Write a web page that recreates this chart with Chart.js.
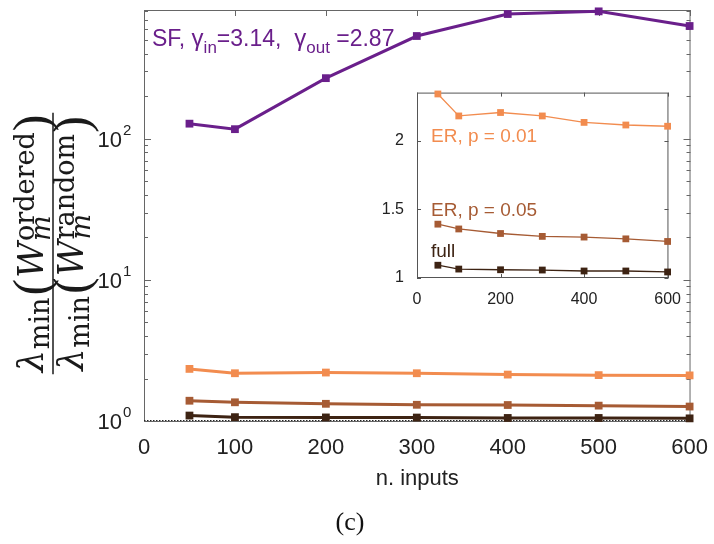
<!DOCTYPE html>
<html lang="en">
<head>
  <meta charset="UTF-8">
  <title>lambda_min ratio vs n. inputs</title>
  <script src="https://cdn.jsdelivr.net/npm/chart.js"></script>
  <style>
    body { margin: 0; background: #ffffff; }
    #wrap { position: relative; width: 714px; height: 544px; }
    #main { position: absolute; left: 0; top: 0; }
    #inset { position: absolute; left: 370px; top: 78px; }
  </style>
</head>
<body>
  <div id="wrap">
    <canvas id="main" width="714" height="544"></canvas>
    <canvas id="inset" width="315" height="228"></canvas>
  </div>

  <script>
    // data
    var nInputs = [50, 100, 200, 300, 400, 500, 600];
    var sfRatio = [128, 117, 269, 535, 766, 800, 630];
    var er001 = [2.34, 2.18, 2.205, 2.18, 2.133, 2.114, 2.105];
    var er005 = [1.392, 1.357, 1.324, 1.303, 1.298, 1.285, 1.266];
    var fullRatio = [1.093, 1.065, 1.060, 1.058, 1.051, 1.051, 1.044];

    var xTicks = [0, 100, 200, 300, 400, 500, 600];
    var yDecades = [1, 10, 100];
    var yDecadeExp = ['0', '1', '2'];
    var insetXTicks = [0, 200, 400, 600];
    var insetYTicks = [1, 1.5, 2];
    var insetYLabels = ['1', '1.5', '2'];

    var purple = '#6a1f8b', orange = '#f28c4f', brown = '#a65b34', dark = '#3d2313';
    var sans = '"Liberation Sans", Arial, sans-serif';
    var serif = '"DejaVu Serif", "Liberation Serif", serif';
    var thinSerif = '"Liberation Serif", serif';

    function pts(ys) {
      return nInputs.map(function (x, i) { return { x: x, y: ys[i] }; });
    }

    function series(label, ys, color, w, r) {
      return {
        label: label, data: pts(ys), borderColor: color, backgroundColor: color,
        borderWidth: w, pointStyle: 'rect', pointRadius: r, pointHoverRadius: r,
        pointBorderWidth: 0, clip: false
      };
    }

    function line(ctx, x1, y1, x2, y2) {
      ctx.beginPath(); ctx.moveTo(x1, y1); ctx.lineTo(x2, y2); ctx.stroke();
    }

    // parts: {t, f, dy, adv, gap}
    function richWidth(ctx, parts) {
      var w = 0;
      parts.forEach(function (p) {
        ctx.font = p.f;
        if (p.adv !== false) w += ctx.measureText(p.t).width + (p.gap || 0);
      });
      return w;
    }
    function drawRich(ctx, parts, x, y) {
      parts.forEach(function (p) {
        ctx.font = p.f;
        ctx.fillText(p.t, x, y + (p.dy || 0));
        if (p.adv !== false) x += ctx.measureText(p.t).width + (p.gap || 0);
      });
    }

    var mainDecor = {
      id: 'mainDecor',
      beforeDatasetsDraw: function (chart) {
        var ctx = chart.ctx, a = chart.chartArea, x = chart.scales.x, y = chart.scales.y;
        ctx.save();
        ctx.strokeStyle = '#666';
        ctx.lineWidth = 1;
        ctx.strokeRect(a.left + 0.5, a.top + 0.5, a.right - a.left - 1, a.bottom - a.top);
        xTicks.forEach(function (v) {
          var px = Math.round(x.getPixelForValue(v)) + 0.5;
          line(ctx, px, a.bottom, px, a.bottom - 6);
          line(ctx, px, a.top, px, a.top + 6);
        });
        yDecades.forEach(function (d) {
          for (var m = 1; m <= 9; m++) {
            var v = m * d;
            if (v > y.max) break;
            var py = Math.round(y.getPixelForValue(v)) + 0.5;
            var len = m === 1 ? 7 : 4;
            line(ctx, a.left, py, a.left + len, py);
            line(ctx, a.right, py, a.right - len, py);
          }
        });
        // dotted baseline
        ctx.strokeStyle = '#222';
        ctx.setLineDash([1.5, 1.5]);
        line(ctx, a.left, a.bottom - 0.5, a.right, a.bottom - 0.5);
        ctx.restore();
      },
      afterDraw: function (chart) {
        var ctx = chart.ctx, a = chart.chartArea, y = chart.scales.y;
        ctx.save();
        ctx.fillStyle = '#222';
        ctx.textBaseline = 'middle';
        yDecades.forEach(function (v, i) {
          var py = y.getPixelForValue(v);
          ctx.font = '22px ' + sans;
          ctx.textAlign = 'right';
          ctx.fillText('10', 122, py + 2);
          ctx.font = '15px ' + sans;
          ctx.textAlign = 'left';
          ctx.fillText(yDecadeExp[i], 123, py - 8);
        });

        // y axis title: a fraction, rotated
        ctx.textAlign = 'left';
        ctx.textBaseline = 'alphabetic';
        ctx.fillStyle = '#1a1a1a';
        var F = 35, S = 27;
        var big = '50px ' + thinSerif;
        function part(sup) {
          return [
            { t: 'λ', f: 'italic ' + F + 'px ' + serif, gap: 1 },
            { t: 'min', f: S + 'px ' + serif, dy: 6, gap: 2 },
            { t: '(', f: big, dy: 5, gap: 1 },
            { t: 'W', f: 'italic ' + F + 'px ' + serif, gap: 1 },
            { t: 'm', f: 'italic ' + S + 'px ' + serif, dy: 7, adv: false },
            { t: sup, f: S + 'px ' + serif, dy: -9, gap: 1 },
            { t: ')', f: big, dy: 5 }
          ];
        }
        var num = part('ordered'), den = part('random');
        ctx.translate(53, (a.top + a.bottom) / 2 + 28);
        ctx.rotate(-Math.PI / 2);
        var wn = richWidth(ctx, num), wd = richWidth(ctx, den);
        var wb = Math.max(wn, wd) + 4;
        drawRich(ctx, num, -wn / 2, -10);
        drawRich(ctx, den, -wd / 2, 30);
        ctx.strokeStyle = '#1a1a1a';
        ctx.lineWidth = 1.5;
        line(ctx, -wb / 2, 0, wb / 2, 0);
        ctx.restore();

        // series label
        ctx.save();
        ctx.fillStyle = purple;
        ctx.textAlign = 'left';
        var sfParts = [
          { t: 'SF, ', f: '23px ' + sans },
          { t: 'γ', f: '24px ' + sans },
          { t: 'in', f: '17px ' + sans, dy: 7 },
          { t: '=3.14,  ', f: '23px ' + sans },
          { t: 'γ', f: '24px ' + sans },
          { t: 'out', f: '17px ' + sans, dy: 7 },
          { t: ' =2.87', f: '23px ' + sans }
        ];
        drawRich(ctx, sfParts, a.left + 8, a.top + 36);

        // panel tag
        ctx.fillStyle = '#111';
        ctx.textAlign = 'center';
        ctx.font = '26px ' + thinSerif;
        ctx.fillText('(c)', 350, 530);
        ctx.restore();
      }
    };

    new Chart(document.getElementById('main').getContext('2d'), {
      type: 'line',
      data: {
        datasets: [
          series('SF', sfRatio, purple, 3, 5.5),
          series('ER, p = 0.01', er001, orange, 3, 5.5),
          series('ER, p = 0.05', er005, brown, 3, 5.5),
          series('full', fullRatio, dark, 3, 5.5)
        ]
      },
      options: {
        responsive: false,
        animation: false,
        devicePixelRatio: 1,
        layout: { padding: { left: 0, right: 22, top: 10, bottom: 48 } },
        plugins: { legend: { display: false }, tooltip: { enabled: false } },
        scales: {
          x: {
            type: 'linear', min: 0, max: 601,
            afterBuildTicks: function (s) { s.ticks = xTicks.map(function (v) { return { value: v }; }); },
            afterFit: function (s) { s.height = 75; },
            grid: { display: false },
            border: { display: false },
            ticks: { color: '#222', font: { family: sans, size: 22 }, padding: 6, maxRotation: 0 },
            title: { display: true, text: 'n. inputs', color: '#222', font: { family: sans, size: 22 }, padding: { top: 0, bottom: 4 } }
          },
          y: {
            type: 'logarithmic', min: 1, max: 818,
            afterFit: function (s) { s.width = 144; },
            grid: { display: false },
            border: { display: false },
            ticks: { display: false }
          }
        }
      },
      plugins: [mainDecor]
    });

    var insetDecor = {
      id: 'insetDecor',
      beforeDatasetsDraw: function (chart) {
        var ctx = chart.ctx, a = chart.chartArea, x = chart.scales.x, y = chart.scales.y;
        ctx.save();
        ctx.strokeStyle = '#555';
        ctx.lineWidth = 1;
        ctx.strokeRect(a.left + 0.5, a.top + 0.5, a.right - a.left - 1, a.bottom - a.top - 1);
        insetXTicks.forEach(function (v) {
          var px = Math.round(x.getPixelForValue(v)) + 0.5;
          line(ctx, px, a.bottom, px, a.bottom - 4);
          line(ctx, px, a.top, px, a.top + 4);
        });
        insetYTicks.forEach(function (v) {
          var py = Math.round(y.getPixelForValue(v)) + 0.5;
          line(ctx, a.left, py, a.left + 4, py);
          line(ctx, a.right, py, a.right - 4, py);
        });
        ctx.restore();
      },
      afterDraw: function (chart) {
        var ctx = chart.ctx, a = chart.chartArea, y = chart.scales.y;
        ctx.save();
        ctx.font = '19px ' + sans;
        ctx.textAlign = 'left';
        ctx.textBaseline = 'alphabetic';
        ctx.fillStyle = orange;
        ctx.fillText('ER, p = 0.01', a.left + 14, y.getPixelForValue(1.99));
        ctx.fillStyle = brown;
        ctx.fillText('ER, p = 0.05', a.left + 14, y.getPixelForValue(1.45));
        ctx.fillStyle = dark;
        ctx.fillText('full', a.left + 14, y.getPixelForValue(1.155));
        ctx.restore();
      }
    };

    new Chart(document.getElementById('inset').getContext('2d'), {
      type: 'line',
      data: {
        datasets: [
          series('ER, p = 0.01', er001, orange, 1.3, 4.8),
          series('ER, p = 0.05', er005, brown, 1.3, 4.8),
          series('full', fullRatio, dark, 1.3, 4.8)
        ]
      },
      options: {
        responsive: false,
        animation: false,
        devicePixelRatio: 1,
        layout: { padding: { left: 0, right: 13, top: 7, bottom: 0 } },
        plugins: { legend: { display: false }, tooltip: { enabled: false } },
        scales: {
          x: {
            type: 'linear', min: 0, max: 602,
            afterBuildTicks: function (s) { s.ticks = insetXTicks.map(function (v) { return { value: v }; }); },
            afterFit: function (s) { s.height = 28; },
            grid: { display: false },
            border: { display: false },
            ticks: { color: '#222', font: { family: sans, size: 16 }, padding: 4, maxRotation: 0 }
          },
          y: {
            type: 'linear', min: 1, max: 2.35,
            afterBuildTicks: function (s) { s.ticks = insetYTicks.map(function (v) { return { value: v }; }); },
            afterFit: function (s) { s.width = 47; },
            grid: { display: false },
            border: { display: false },
            ticks: {
              color: '#222', font: { family: sans, size: 16 }, padding: 5,
              callback: function (v) { return insetYLabels[insetYTicks.indexOf(v)]; }
            }
          }
        }
      },
      plugins: [insetDecor]
    });
  </script>
</body>
</html>
